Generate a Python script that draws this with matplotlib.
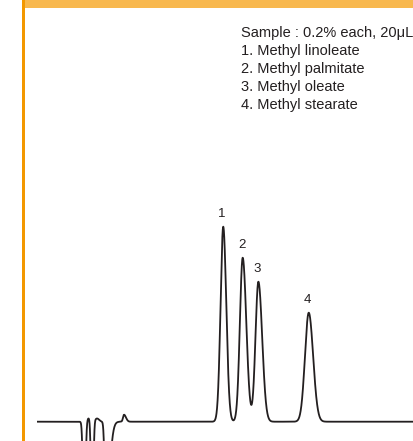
import numpy as np
import matplotlib
matplotlib.use("Agg")
import matplotlib.pyplot as plt
from matplotlib.patches import Rectangle

# ---------------- data ----------------
# analyte peaks: retention time (min), height (response), left/right widths (min)
peak_labels = ["1", "2", "3", "4"]
peak_rt = [12.35, 13.64, 14.68, 18.02]
peak_height = [195.0, 164.0, 140.0, 109.0]
peak_sigma_left = [0.178, 0.186, 0.192, 0.250]
peak_sigma_right = [0.200, 0.240, 0.252, 0.290]

# solvent / injection disturbances near the start of the run
dist_rt = [3.130, 3.420, 3.660, 3.980, 4.560, 5.770]
dist_height = [-120.0, 3.5, -120.0, 3.2, -90.0, 7.0]
dist_sigma_left = [0.075, 0.085, 0.068, 0.14, 0.075, 0.066]
dist_sigma_right = [0.075, 0.085, 0.068, 0.14, 0.240, 0.130]

run_time = [0.0, 25.0]

sample_info = "Sample : 0.2% each, 20\u03bcL"
compound_names = ["1. Methyl linoleate", "2. Methyl palmitate",
                  "3. Methyl oleate", "4. Methyl stearate"]

# ---------------- figure ----------------
W, H = 414, 441
fig = plt.figure(figsize=(W / 100, H / 100), dpi=100)
fig.patch.set_facecolor("white")

ink = "#231f20"
plt.rcParams["font.family"] = ["Liberation Sans", "DejaVu Sans"]

ax = fig.add_axes([37 / W, 0.0, 1 - 37 / W, 1.0])
ax.set_xlim(run_time)
ax.set_ylim(-19.3, H - 19.3)
ax.axis("off")


def asym_gauss(t, mu, h, sl, sr):
    s = np.where(t < mu, sl, sr)
    return h * np.exp(-0.5 * ((t - mu) / s) ** 2)


t = np.linspace(run_time[0], run_time[1], 8000)
y = np.zeros_like(t)
for mu, h, sl, sr in zip(peak_rt, peak_height, peak_sigma_left, peak_sigma_right):
    y += asym_gauss(t, mu, h, sl, sr)
for mu, h, sl, sr in zip(dist_rt, dist_height, dist_sigma_left, dist_sigma_right):
    y += asym_gauss(t, mu, h, sl, sr)

ax.plot(t, y, color=ink, lw=1.3, solid_joinstyle="round")

for lab, mu, h in zip(peak_labels, peak_rt, peak_height):
    ax.annotate(lab, xy=(mu, h), xytext=(-0.8, 5), textcoords="offset points",
                ha="center", va="bottom", fontsize=9.5, color=ink)

# ---------------- frame decorations ----------------
fig.patches.append(Rectangle((25 / W, 1 - 7.5 / H), 1 - 25 / W, 7.5 / H,
                             transform=fig.transFigure, facecolor="#f8b84e",
                             edgecolor="none", zorder=0))
fig.patches.append(Rectangle((22 / W, 0), 2.6 / W, 1,
                             transform=fig.transFigure, facecolor="#f39800",
                             edgecolor="none", zorder=1))

# ---------------- legend text ----------------
x0 = 241 / W
lines = [sample_info] + compound_names
for i, s in enumerate(lines):
    fig.text(x0, 1 - (33 + 18 * i) / H, s, ha="left", va="center",
             fontsize=10.5, color=ink)

fig.savefig("out.png", dpi=100, facecolor="white")
